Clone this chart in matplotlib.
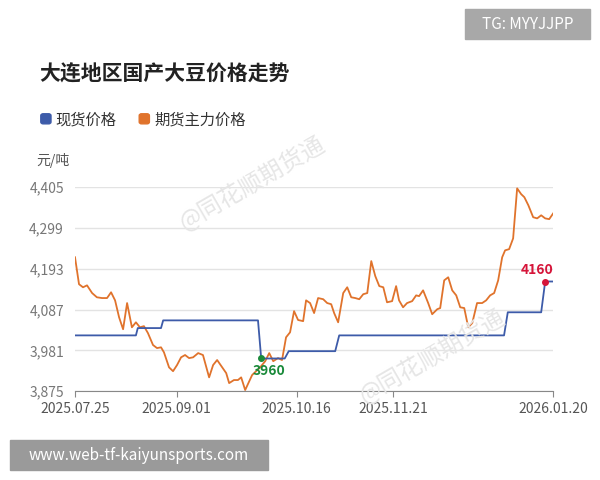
import matplotlib
matplotlib.use("Agg")
import matplotlib.pyplot as plt
import matplotlib.dates as mdates
import numpy as np
import datetime as dt

plt.rcParams['font.family'] = ['Noto Sans CJK SC', 'DejaVu Sans']

start = dt.datetime(2025, 7, 25)
fut_days = [0,1.5,3.0,4.5,6.4,8.2,10.1,12.0,13.5,15.0,16.5,18.0,19.5,21.3,22.8,24.3,25.8,27.3,29.2,30.7,
            32.2,33.3,35.2,36.7,38.2,39.7,41.2,42.7,44.2,46.1,47.9,50.2,51.7,53.2,55.1,56.6,57.7,59.5,61.0,62.2,
            63.7,66.3,69.3,71.2,72.7,74.2,76.0,77.5,79.0,80.5,82.0,83.5,85.4,86.5,88.0,89.5,91.0,92.9,94.4,95.9,
            97.0,98.5,100.4,101.9,103.4,104.9,106.4,107.9,109.4,110.9,112.4,113.9,115.4,116.8,118.7,120.2,121.3,
            122.8,124.3,126.2,127.7,128.8,130.3,132.2,133.7,135.6,136.7,138.2,139.7,141.2,142.7,144.2,145.7,147.2,
            148.7,150.5,152.4,153.9,155.4,156.9,158.4,159.9,161.0,162.5,164.0,165.5,167.0,168.2,169.7,171.5,173.0,
            174.5,176.0,177.5,179]
fut_vals = [4223,4153,4145,4150,4130,4119,4117,4117,4132,4111,4067,4036,4104,4041,4054,4041,4044,4026,3995,3987,
            3989,3976,3937,3927,3943,3963,3969,3961,3963,3974,3969,3911,3943,3956,3937,3922,3896,3904,3904,3911,
            3878,3917,3937,3953,3974,3953,3961,3956,4015,4028,4083,4060,4057,4111,4104,4078,4117,4114,4104,4101,
            4078,4054,4130,4145,4119,4117,4114,4127,4130,4213,4174,4148,4145,4106,4109,4148,4111,
            4093,4104,4109,4124,4122,4137,4104,4075,4088,4091,4163,4171,4137,4124,4093,4091,4041,
            4052,4104,4104,4111,4124,4130,4163,4223,4241,4244,4272,4402,4387,4379,4358,4327,4324,
            4332,4324,4322,4337]
spot_days = [0,22.8,23.5,32.2,33,68.5,69.7,78.5,80,97.4,98.9,160.6,162,174.5,176,179]
spot_vals = [4020,4020,4039,4039,4059,4059,3960,3960,3979,3979,4020,4020,4080,4080,4160,4160]
yticks = [3875,3981,4087,4193,4299,4405]
xtick_dates = ["2025.07.25","2025.09.01","2025.10.16","2025.11.21","2026.01.20"]

fd = [start + dt.timedelta(days=d) for d in fut_days]
sd = [start + dt.timedelta(days=d) for d in spot_days]

fig = plt.figure(figsize=(6, 4.8), dpi=100)
ax = fig.add_axes([0.125, 0.185, 0.797, 0.425])
blue = '#3d5ba9'; orange = '#e0732c'
ax.plot(fd, fut_vals, color=orange, lw=1.3, zorder=3)
ax.plot(sd, spot_vals, color=blue, lw=1.3, zorder=3)
ax.set_ylim(3875, 4405)
ax.set_yticks(yticks)
ax.set_yticklabels([f"{v:,}" for v in yticks], color='#777777', fontsize=10)
xt = [dt.datetime.strptime(s, "%Y.%m.%d") for s in xtick_dates]
ax.set_xticks(xt)
ax.set_xticklabels(xtick_dates, color='#555555', fontsize=10)
ax.set_xlim(start, start + dt.timedelta(days=179))
ax.grid(axis='y', color='#e3e3e3', lw=1)
for s in ['top', 'right', 'left']:
    ax.spines[s].set_visible(False)
ax.spines['bottom'].set_color('#888888')
ax.tick_params(axis='y', length=0, pad=8)
ax.tick_params(axis='x', length=4, color='#888888')

# annotations
i_min = 6
ax.plot(sd[i_min], spot_vals[i_min], 'o', color='#1a8a3a', ms=4, zorder=4)
ax.text(sd[i_min] + dt.timedelta(days=3), spot_vals[i_min] - 15, "3960", color='#1a8a3a',
        fontsize=10, fontweight='bold', ha='center', va='top', zorder=5)
ax.plot(sd[-2], spot_vals[-2], 'o', color='#d6153a', ms=4, zorder=4)
ax.text(sd[-2] - dt.timedelta(days=3), spot_vals[-2] + 12, "4160", color='#d6153a',
        fontsize=10, fontweight='bold', ha='center', va='bottom', zorder=5)

# watermark
for (x, y) in [(0.42, 0.62), (0.72, 0.26)]:
    fig.text(x, y, "@同花顺期货通", fontsize=17, color='#e6e6e6', rotation=30,
             ha='center', va='center', zorder=0)

fig.text(0.065, 0.845, "大连地区国产大豆价格走势", fontsize=15, fontweight='bold', color='#222222', va='center')
fig.patches.append(matplotlib.patches.FancyBboxPatch((0.068, 0.742), 0.017, 0.021, boxstyle="round,pad=0,rounding_size=0.004",
                   transform=fig.transFigure, color=blue))
fig.text(0.093, 0.751, "现货价格", fontsize=11, color='#333333', va='center')
fig.patches.append(matplotlib.patches.FancyBboxPatch((0.232, 0.742), 0.017, 0.021, boxstyle="round,pad=0,rounding_size=0.004",
                   transform=fig.transFigure, color=orange))
fig.text(0.257, 0.751, "期货主力价格", fontsize=11, color='#333333', va='center')
fig.text(0.06, 0.665, "元/吨", fontsize=10, color='#555555', va='center')

fig.patches.append(matplotlib.patches.Rectangle((0.775, 0.918), 0.208, 0.063, transform=fig.transFigure, color='#a8a8a8'))
fig.text(0.879, 0.949, "TG: MYYJJPP", fontsize=11, color='white', ha='center', va='center')
fig.patches.append(matplotlib.patches.Rectangle((0.017, 0.021), 0.43, 0.063, transform=fig.transFigure, color='#9a9a9a'))
fig.text(0.232, 0.052, "www.web-tf-kaiyunsports.com", fontsize=11, color='white', ha='center', va='center')

fig.savefig("out.png", dpi=100)
